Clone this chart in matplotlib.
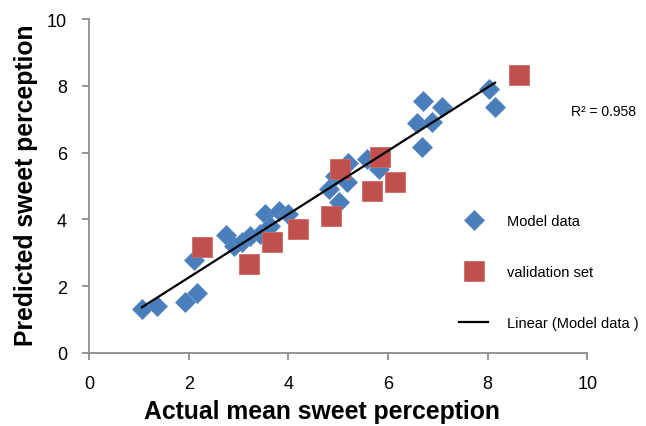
import numpy as np
import matplotlib
matplotlib.use("Agg")
import matplotlib.pyplot as plt

plt.rcParams["font.family"] = ["Liberation Sans", "DejaVu Sans"]

# model data (actual, predicted)
model_x = [1.06, 1.36, 1.93, 2.16, 2.11, 2.75, 2.90, 3.07, 3.23, 3.43,
           3.53, 3.82, 4.00, 3.63, 4.81, 4.94, 5.01, 5.17, 5.20, 5.58,
           5.81, 6.58, 6.68, 6.71, 7.08, 6.88, 8.02, 8.15]
model_y = [1.32, 1.40, 1.52, 1.80, 2.79, 3.53, 3.21, 3.31, 3.51, 3.56,
           4.16, 4.26, 4.16, 3.81, 4.91, 5.31, 4.51, 5.11, 5.70, 5.81,
           5.51, 6.88, 6.18, 7.55, 7.36, 6.91, 7.90, 7.36]

# validation set
val_x = [2.26, 3.20, 3.67, 4.20, 4.85, 5.03, 5.68, 5.84, 6.14, 8.64]
val_y = [3.16, 2.66, 3.31, 3.71, 4.11, 5.51, 4.86, 5.86, 5.12, 8.32]

r2_text = "R² = 0.958"

fig = plt.figure(figsize=(6.46, 4.27), dpi=100)
ax = fig.add_axes([0.138, 0.171, 0.771, 0.782])

h1, = ax.plot(model_x, model_y, "D", ms=10.5, color="#4a7ebb",
              mec="#5a8cc6", mew=0.6, label="Model data")
h2, = ax.plot(val_x, val_y, "s", ms=14, color="#c0504d",
              mec="#cf6a67", mew=0.6, label="validation set")

coef = np.polyfit(model_x, model_y, 1)
xs = np.array([min(model_x), max(model_x)])
h3, = ax.plot(xs, np.polyval(coef, xs), color="black", lw=1.6,
              label="Linear (Model data )")

ax.set_xlim(0, 10)
ax.set_ylim(0, 10)
ax.set_xticks(range(0, 11, 2))
ax.set_yticks(range(0, 11, 2))

for s in ["top", "right"]:
    ax.spines[s].set_visible(False)
for s in ["left", "bottom"]:
    ax.spines[s].set_color("#8c8c8c")
    ax.spines[s].set_linewidth(1.3)
ax.tick_params(colors="#8c8c8c", labelcolor="black", length=5, width=1.3,
               labelsize=13, pad=11)

ax.set_xlabel("Actual mean sweet perception", fontsize=17.8,
              fontweight="bold", labelpad=5, x=0.468)
ax.set_ylabel("Predicted sweet perception", fontsize=17.8,
              fontweight="bold", labelpad=6, y=0.505)

fig.text(0.884, 0.738, r2_text, fontsize=10, va="center", ha="left")

fig.legend(handles=[h1, h2, h3], loc="upper left",
           bbox_to_anchor=(0.711, 0.497), frameon=False, fontsize=10.5,
           labelspacing=2.55, handlelength=2.0, handletextpad=1.3,
           borderpad=0, borderaxespad=0)

fig.savefig("out.png", dpi=100)
